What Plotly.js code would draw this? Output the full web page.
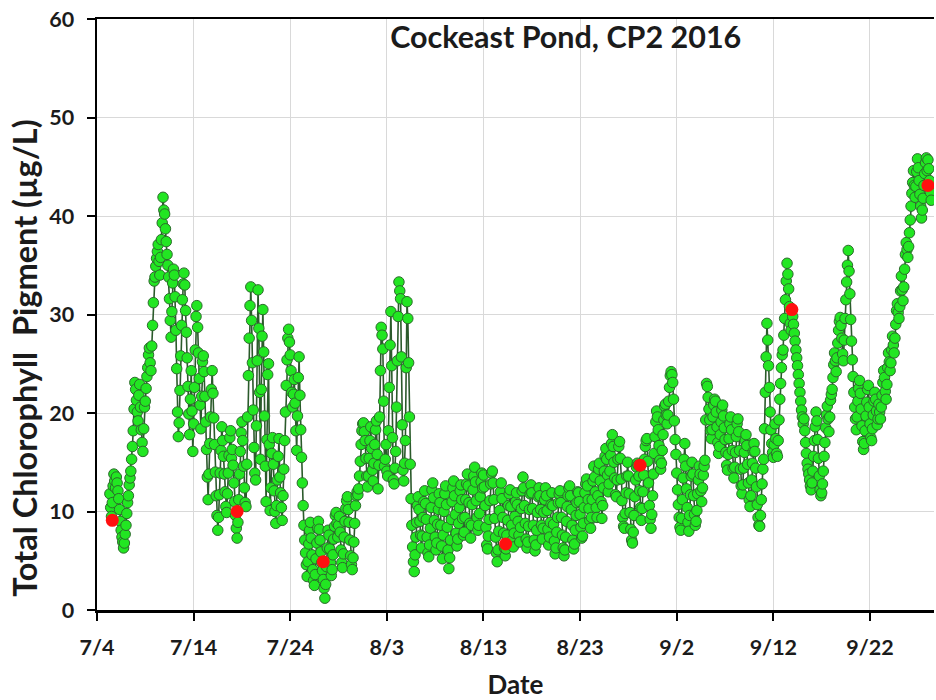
<!DOCTYPE html>
<html>
<head>
<meta charset="utf-8">
<script src="https://cdn.plot.ly/plotly-3.0.1.min.js"></script>
<style>
  html, body { margin: 0; padding: 0; background: #ffffff; }
  #chart { width: 936px; height: 700px; }
</style>
</head>
<body>
<div id="chart"></div>
<script>
// Sonde record of total chlorophyll pigment (ug/L), logged every 2 hours.
const SAMPLE_STEP_HOURS = 2;

// July: first reading 2016-07-05 08:00 (one row per day)
const julyStart = '2016-07-05T08:00';
const julyChl = [
  11.8, 10.4, 9.5, 10.9, 12.6, 13.8, 13.1, 12.4,
  13.5, 12.9, 12.1, 11.3, 10.2, 9.0, 8.1, 7.4, 6.9, 6.3, 6.8, 7.7,
  8.6, 9.8, 10.9, 11.6, 12.7, 13.4, 14.1, 15.3, 16.6, 18.2, 20.4, 23.1,
  22.4, 21.3, 20.1, 19.2, 21.8, 22.9, 20.6, 18.3, 17.0, 16.1, 18.4, 20.6,
  21.2, 22.5, 23.7, 24.6, 25.9, 26.6, 25.1, 24.3, 26.8, 28.9, 31.2, 33.4,
  33.8, 34.9, 35.7, 36.4, 37.1, 35.4, 34.0, 35.8, 37.6, 39.3, 41.9, 40.6,
  40.2, 38.7, 37.4, 36.1, 35.0, 33.8, 31.6, 29.4, 27.7, 30.3, 33.2, 34.6,
  34.0, 31.8, 28.4, 24.5, 20.1, 17.6, 19.0, 22.3, 25.8, 28.9, 31.5, 33.1,
  34.2, 33.0, 30.4, 28.2, 25.6, 22.7, 19.9, 17.8, 21.4, 24.3, 20.2, 16.1,
  18.9, 22.6, 26.4, 29.8, 30.9, 28.7, 26.1, 23.5, 20.8, 18.4, 21.7, 25.2,
  25.8, 24.2, 21.7, 19.1, 16.3, 13.5, 11.2, 13.8, 16.9, 19.6, 22.4, 24.3,
  22.0, 19.5, 16.8, 14.0, 11.6, 9.6, 8.1, 9.4, 11.7, 13.9, 16.2, 18.6,
  17.2, 15.6, 13.8, 12.0, 10.5, 9.9, 11.8, 13.9, 15.7, 17.5, 18.2, 15.4,
  16.3, 14.7, 12.9, 11.0, 9.6, 8.3, 7.3, 8.9, 11.2, 13.8, 16.1, 18.0,
  19.1, 17.2, 14.6, 12.4, 10.9, 10.5, 14.8, 19.6, 23.8, 27.6, 30.9, 32.8,
  29.4, 25.1, 20.3, 16.5, 13.9, 13.2, 18.7, 25.3, 32.5, 28.6, 22.1, 15.3,
  22.4, 27.8, 30.5, 26.2, 19.7, 14.6, 11.0, 17.3, 23.9, 25.0, 16.8, 10.1,
  12.4, 15.9, 17.5, 14.8, 12.1, 10.0, 8.8, 10.6, 13.2, 15.6, 17.4, 13.5,
  11.9, 10.4, 9.1, 11.6, 14.3, 17.2, 20.1, 22.8, 25.4, 27.6, 28.5, 27.2,
  25.9, 24.3, 22.1, 20.6, 21.9, 23.4, 21.0, 18.2, 16.2, 19.7, 23.6, 25.7,
  21.8, 18.3, 15.5, 12.9, 10.6, 8.6, 7.1, 5.8, 4.6, 3.4, 4.9, 6.7,
  8.1, 8.9, 7.3, 5.6, 4.1, 3.0, 2.5, 3.6, 5.2, 6.8, 8.3, 9.0,
  8.2, 7.1, 5.9, 4.8, 4.0, 3.1, 2.2, 1.2, 2.6, 4.4, 6.3, 8.1,
  7.6, 6.2, 4.8, 3.5, 4.1, 5.6, 7.2, 8.5, 9.6, 9.9, 8.8, 7.4,
  8.6, 9.5, 7.9, 6.1, 4.8, 4.3, 5.7, 7.4, 9.0, 10.3, 11.1, 11.5,
  10.2, 8.9, 7.1, 5.5, 4.6, 4.1, 5.3, 6.9, 8.8, 10.6, 11.6, 12.0,
  11.7, 12.3, 13.6, 15.1, 16.8, 18.2, 18.9, 19.0, 18.1, 17.2, 15.4, 13.6
];

// August: first reading 2016-08-01 00:00
const augustStart = '2016-08-01T00:00';
const augustChl = [
  12.5, 13.6, 15.4, 17.2, 18.6, 16.4, 14.2, 13.1, 14.9, 16.8, 18.3, 19.2,
  15.8, 12.3, 14.7, 19.6, 24.3, 28.7, 27.9, 26.5, 21.2, 14.6, 15.3, 16.8,
  14.1, 13.6, 18.2, 22.6, 26.9, 30.3, 24.8, 17.5, 13.2, 12.8, 14.4, 16.1,
  20.6, 25.3, 29.8, 33.3, 32.4, 31.6, 25.7, 18.8, 14.2, 13.1, 14.9, 17.2,
  24.6, 31.3, 29.6, 25.1, 19.6, 14.8, 11.3, 8.6, 6.4, 4.9, 3.9, 5.6,
  7.4, 8.9, 10.6, 11.5, 10.2, 9.0, 7.6, 6.3, 7.5, 9.4, 11.0, 12.1,
  10.8, 9.2, 7.4, 5.8, 5.4, 6.6, 8.3, 10.4, 12.2, 12.9, 11.4, 9.1,
  7.4, 6.1, 6.8, 8.7, 10.2, 11.8, 10.9, 8.6, 6.5, 5.2, 7.6, 10.0,
  11.8, 12.6, 10.7, 8.4, 6.1, 4.2, 5.3, 7.1, 9.2, 11.0, 12.4, 13.1,
  11.6, 9.7, 7.8, 6.5, 7.2, 8.8, 10.4, 12.1, 12.7, 11.2, 9.3, 7.6,
  7.9, 9.4, 11.2, 12.8, 13.8, 12.6, 10.9, 8.8, 7.3, 8.6, 10.7, 12.2,
  13.6, 14.5, 13.0, 11.1, 9.4, 8.1, 8.6, 9.8, 11.5, 13.0, 13.9, 12.4,
  13.7, 12.5, 10.6, 8.4, 6.6, 6.2, 7.5, 9.2, 11.1, 12.8, 13.9, 14.1,
  12.9, 11.2, 9.3, 7.4, 5.8, 4.9, 6.1, 8.0, 10.1, 12.0, 12.9, 11.3,
  9.4, 7.8, 6.3, 5.5, 6.2, 7.6, 9.1, 10.6, 11.8, 12.2, 10.5, 8.6,
  7.1, 6.4, 7.8, 9.5, 11.0, 11.9, 10.7, 9.0, 7.6, 6.9, 8.4, 10.3,
  12.1, 13.5, 12.4, 10.6, 8.8, 7.2, 6.3, 6.9, 8.5, 10.2, 11.8, 12.7,
  11.9, 10.3, 8.6, 7.1, 6.0, 6.6, 8.1, 9.9, 11.5, 12.4, 11.6, 10.2,
  8.6, 7.2, 8.3, 9.9, 11.2, 12.4, 11.6, 10.1, 8.2, 6.6, 7.4, 8.9,
  10.7, 11.9, 10.6, 8.7, 7.0, 5.7, 6.3, 7.9, 9.4, 10.9, 11.8, 12.1,
  10.9, 9.4, 7.6, 6.3, 5.5, 6.1, 7.4, 9.0, 10.5, 11.6, 12.4, 12.6,
  11.6, 10.2, 8.6, 7.1, 6.2, 6.7, 8.1, 9.6, 10.9, 12.0, 11.9, 11.0,
  9.7, 8.4, 7.3, 7.5, 8.8, 10.4, 11.9, 12.8, 13.3, 12.6, 11.2, 10.3,
  9.1, 8.3, 9.4, 11.2, 13.1, 14.6, 13.5, 12.0, 10.4, 9.4, 11.6, 14.3,
  14.9, 13.1, 11.0, 9.3, 10.6, 12.4, 14.1, 15.6, 16.4, 15.3, 13.7, 12.0,
  12.8, 14.1, 15.7, 16.9, 17.8, 16.6, 15.0, 13.4, 11.7, 11.5, 13.2, 15.3,
  16.6, 17.1, 15.4, 13.3, 11.1, 9.4, 8.5, 8.3, 9.8, 11.9, 13.6, 15.0,
  13.6, 11.8, 9.9, 8.2, 7.1, 6.8, 7.9, 9.6, 11.5, 13.2, 14.5, 14.9,
  14.7, 13.6, 12.1, 10.4, 9.1, 10.3, 12.0, 13.7, 15.3, 16.6, 17.2, 17.4,
  15.1, 12.9, 10.6, 9.2, 8.3, 9.7, 11.6, 13.8, 15.9, 17.6, 19.1, 20.2,
  19.6, 18.3, 16.7, 15.2, 14.3, 14.9, 16.2, 17.8, 19.3, 20.7, 20.9, 19.8
];

// September: first reading 2016-09-01 00:00
const septemberStart = '2016-09-01T00:00';
const septemberChl = [
  18.9, 19.8, 21.2, 22.6, 23.8, 24.2, 23.9, 23.1, 21.4, 19.2, 17.3, 15.8,
  13.9, 12.2, 10.7, 9.4, 8.4, 8.1, 9.3, 11.2, 13.4, 15.3, 16.9, 14.6,
  12.3, 10.4, 8.9, 8.0, 9.6, 11.7, 13.6, 15.0, 13.8, 11.6, 9.7, 8.6,
  9.0, 10.1, 11.8, 13.2, 14.6, 13.8, 12.1, 11.0, 12.4, 13.7, 14.6, 15.2,
  19.3, 23.0, 22.7, 21.6, 20.4, 19.3, 18.2, 17.4, 18.3, 19.6, 20.8, 21.4,
  21.2, 20.1, 18.6, 17.0, 15.9, 16.6, 17.8, 19.1, 20.3, 20.8, 19.7, 18.5,
  17.3, 16.0, 14.7, 14.2, 15.8, 17.4, 18.9, 19.6, 18.3, 16.2, 14.4, 13.4,
  14.5, 16.0, 17.6, 18.9, 19.4, 18.1, 16.2, 14.3, 12.6, 11.8, 12.7, 14.4,
  16.0, 17.2, 17.8, 16.7, 14.8, 12.9, 11.2, 10.5, 11.6, 13.2, 14.9, 16.1,
  16.9, 16.1, 14.4, 12.5, 10.7, 9.4, 8.6, 8.5, 9.6, 11.2, 12.8, 14.3,
  15.3, 18.4, 22.1, 25.7, 29.1, 27.4, 24.8, 22.6, 20.1, 18.3, 16.9, 16.0,
  15.5, 16.8, 18.9, 17.4, 15.9, 15.6, 17.2, 19.3, 21.4, 23.0, 24.6, 25.9,
  26.4, 27.9, 29.6, 31.5, 33.4, 35.2, 34.1, 32.6, 30.8, 29.1, 28.4, 30.5,
  29.8, 29.0, 28.1, 27.3, 26.4, 25.6, 24.8, 23.9, 23.0, 22.1, 21.2, 20.3,
  19.6, 18.9, 19.4, 18.2, 17.0, 15.9, 14.9, 14.3, 13.8, 13.2, 12.6, 12.2,
  12.9, 14.1, 15.6, 17.2, 18.6, 20.1, 19.2, 17.3, 15.4, 13.6, 12.2, 11.6,
  11.9, 12.8, 14.1, 15.6, 17.0, 18.5, 19.8, 20.7, 19.4, 18.1, 19.6, 21.3,
  21.9, 22.4, 23.6, 24.9, 26.1, 25.3, 24.2, 25.6, 27.1, 28.4, 29.3, 29.7,
  28.9, 27.6, 26.0, 25.3, 27.4, 29.6, 31.5, 33.3, 35.0, 36.5, 34.4, 32.1,
  29.5, 27.3, 25.4, 23.7, 22.1, 20.6, 19.4, 18.3, 19.6, 21.2, 22.5, 23.3,
  22.0, 20.4, 18.7, 17.1, 16.3, 16.9, 18.2, 19.7, 21.1, 22.4, 22.8, 20.6,
  18.9, 17.5, 17.2, 18.4, 19.8, 21.2, 22.1, 21.4, 20.2, 18.8, 19.4, 20.9,
  20.1, 19.4, 20.6, 21.8, 23.1, 24.3, 23.6, 22.2, 21.4, 22.9, 24.6, 26.1,
  25.2, 24.3, 25.1, 26.4, 27.8, 26.9, 26.1, 27.6, 29.0, 30.4, 31.1, 30.2,
  29.6, 30.8, 32.4, 33.9, 32.5, 31.4, 32.8, 34.6, 36.1, 37.3, 36.6, 35.8,
  36.9, 38.3, 39.6, 41.0, 42.3, 43.4, 44.6, 43.1, 41.9, 43.0, 44.5, 45.8,
  44.9, 43.6, 42.2, 41.0, 39.8, 40.6, 41.8, 43.1, 44.3, 45.4, 45.9, 44.6,
  45.7, 44.8, 43.6, 42.4, 41.6
];

// Grab samples analysed in the lab
const grabDates = [
  '2016-07-05 14:00', '2016-07-18 12:00', '2016-07-27 10:00',
  '2016-08-15 07:00', '2016-08-29 05:00', '2016-09-13 22:00',
  '2016-09-28 00:00'
];
const grabChl = [9.1, 10.0, 4.9, 6.7, 14.7, 30.5, 43.1];

const xTicksStart = '2016-07-04';
const xRange = ['2016-07-04 00:00', '2016-09-28 15:00'];

// Timestamps for a block of readings taken at a fixed interval
function readingTimes(start, count) {
  const t0 = Date.parse(start + ':00Z');
  const out = [];
  for (let i = 0; i < count; i++) {
    const d = new Date(t0 + i * SAMPLE_STEP_HOURS * 3600000);
    out.push(d.toISOString().slice(0, 16).replace('T', ' '));
  }
  return out;
}

const sondeX = [].concat(
  readingTimes(julyStart, julyChl.length),
  readingTimes(augustStart, augustChl.length),
  readingTimes(septemberStart, septemberChl.length)
);
const sondeY = [].concat(julyChl, augustChl, septemberChl);

const FONT = 'Lato, "Open Sans", sans-serif';
const TEXT = '#1b1b1b';

const traces = [
  {
    type: 'scatter',
    mode: 'lines+markers',
    x: sondeX,
    y: sondeY,
    line: { color: '#2b5a2b', width: 1.6 },
    marker: {
      size: 10.5,
      color: '#22e622',
      line: { color: '#2c6a2c', width: 1 }
    },
    hoverinfo: 'x+y',
    showlegend: false
  },
  {
    type: 'scatter',
    mode: 'markers',
    x: grabDates,
    y: grabChl,
    marker: { size: 13, color: '#ff1010', line: { width: 0 } },
    showlegend: false
  }
];

const layout = {
  width: 936,
  height: 700,
  margin: { l: 97, r: 2, t: 19, b: 90 },
  paper_bgcolor: '#ffffff',
  plot_bgcolor: '#ffffff',
  font: { family: FONT, color: TEXT },
  title: {
    text: 'Cockeast Pond, CP2 2016',
    font: { family: FONT, size: 30.5, color: TEXT, weight: 700 },
    xref: 'paper', x: 0.56, xanchor: 'center',
    yref: 'container', y: 0.946, yanchor: 'middle'
  },
  xaxis: {
    type: 'date',
    range: xRange,
    tick0: xTicksStart,
    dtick: 864000000,
    tickformat: '%-m/%-d',
    ticks: 'outside',
    ticklen: 8,
    tickwidth: 2,
    tickcolor: '#000000',
    ticklabelstandoff: 9,
    showline: true,
    linecolor: '#000000',
    linewidth: 2.5,
    mirror: true,
    showgrid: true,
    gridcolor: '#d9d9d9',
    gridwidth: 1,
    zeroline: false,
    tickfont: { family: FONT, size: 21.5, color: TEXT, weight: 700 },
    title: {
      text: 'Date',
      font: { family: FONT, size: 26, color: TEXT, weight: 700 },
      standoff: 18
    },
    automargin: false
  },
  yaxis: {
    range: [0, 60],
    dtick: 10,
    ticks: 'outside',
    ticklen: 8,
    tickwidth: 2,
    tickcolor: '#000000',
    ticklabelstandoff: 8,
    showline: true,
    linecolor: '#000000',
    linewidth: 2.5,
    showgrid: true,
    gridcolor: '#d9d9d9',
    gridwidth: 1,
    zeroline: false,
    tickfont: { family: FONT, size: 21.5, color: TEXT, weight: 700 },
    automargin: false
  },
  // Vertical axis caption, sitting slightly below the plot's mid-height
  annotations: [
    {
      text: 'Total Chlorophyll  Pigment (µg/L)',
      textangle: -90,
      xref: 'paper', x: -0.086, xanchor: 'center',
      yref: 'paper', y: 0.425, yanchor: 'middle',
      showarrow: false,
      font: { family: FONT, size: 32.5, color: TEXT, weight: 700 }
    }
  ]
};

Plotly.newPlot('chart', traces, layout, { displayModeBar: false, staticPlot: true });
</script>
</body>
</html>
